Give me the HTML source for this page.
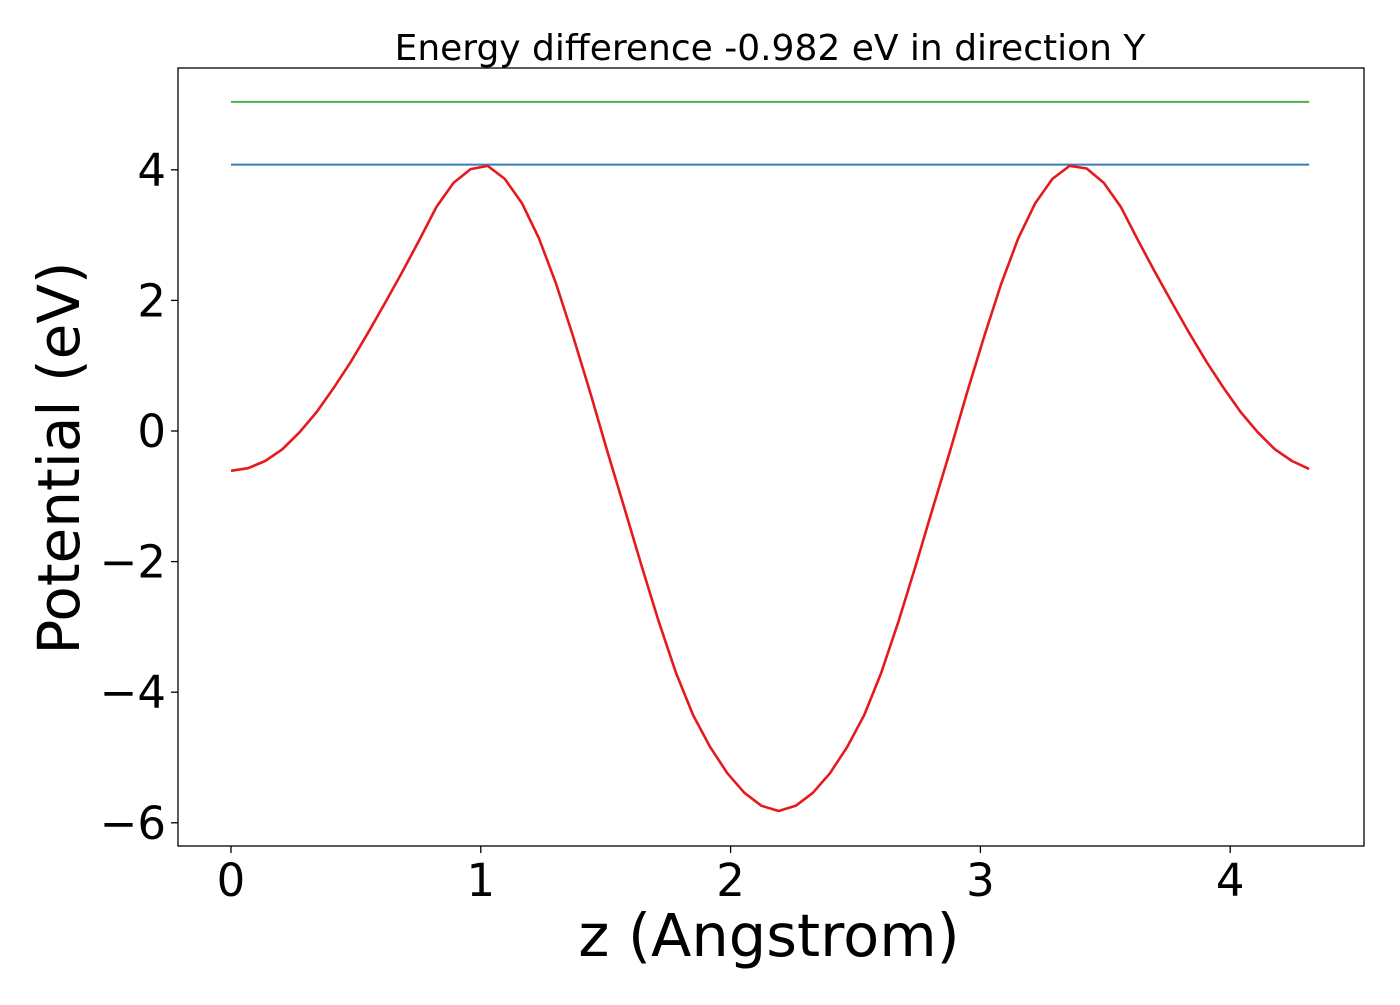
<!DOCTYPE html>
<html><head><meta charset="utf-8"><style>
html,body{margin:0;padding:0;background:#fff;}
svg text{font-family:"DejaVu Sans","Liberation Sans",sans-serif;fill:#000;}
</style></head><body>
<svg width="1400" height="1000" viewBox="0 0 1400 1000">
<g id="plot"></g>
</svg>
<script>
const potential = [-0.61,-0.57,-0.46,-0.28,-0.02,0.29,0.66,1.06,1.50,1.96,2.43,2.92,3.43,3.80,4.01,4.06,3.86,3.49,2.95,2.25,1.44,0.58,-0.32,-1.19,-2.07,-2.92,-3.70,-4.35,-4.84,-5.24,-5.54,-5.74,-5.82,-5.74,-5.54,-5.24,-4.84,-4.35,-3.70,-2.92,-2.07,-1.19,-0.32,0.58,1.44,2.25,2.95,3.49,3.86,4.06,4.02,3.80,3.43,2.92,2.43,1.96,1.50,1.06,0.66,0.29,-0.02,-0.28,-0.46,-0.58];
const zMax = 4.316;
const blueLevel = 4.08;
const greenLevel = 5.04;
const xTicks = [0,1,2,3,4];
const yTicks = [-6,-4,-2,0,2,4];
const yTickLabels = ["\u22126","\u22124","\u22122","0","2","4"];

const L=178,R=1364,T=68,B=846;
const xs = v => 231 + v*249.8;
const ys = v => 431 - v*65.3;
const NS="http://www.w3.org/2000/svg";
const g=document.getElementById('plot');
function mk(tag,attrs){const e=document.createElementNS(NS,tag);for(const k in attrs)e.setAttribute(k,attrs[k]);g.appendChild(e);return e;}

let e;
e=mk('line',{x1:xs(0),x2:xs(zMax),y1:ys(greenLevel),y2:ys(greenLevel),stroke:'#4daf4a','stroke-width':2});


e=mk('line',{x1:xs(0),x2:xs(zMax),y1:ys(blueLevel),y2:ys(blueLevel),stroke:'#377eb8','stroke-width':2});


const n=potential.length;
const pts=potential.map((v,i)=>xs(i*zMax/(n-1)).toFixed(1)+','+ys(v).toFixed(1)).join(' ');
e=mk('polyline',{points:pts,fill:'none',stroke:'#e41a1c','stroke-width':2.6,'stroke-linejoin':'round'});



e=mk('rect',{x:L,y:T,width:R-L,height:B-T,fill:'none',stroke:'#000','stroke-width':1.3});



xTicks.forEach(v=>{
  e=mk('line',{x1:xs(v),x2:xs(v),y1:B,y2:B+7,stroke:'#000','stroke-width':1.3});
  
  
  e=mk('text',{x:xs(v),y:B+50,'font-size':45,'text-anchor':'middle'});
  e.textContent=String(v);
  
  
});
yTicks.forEach((v,i)=>{
  e=mk('line',{x1:L-7,x2:L,y1:ys(v),y2:ys(v),stroke:'#000','stroke-width':1.3});
  
  
  e=mk('text',{x:L-12,y:ys(v)+16,'font-size':45,'text-anchor':'end'});
  e.textContent=yTickLabels[i];
  
  
});
e=mk('text',{x:769,y:956,'font-size':59,'text-anchor':'middle'});
e.textContent='z (Angstrom)';


e=mk('text',{x:0,y:0,'font-size':58,'text-anchor':'middle',transform:'translate(79,458) rotate(-90)'});
e.textContent='Potential (eV)';


e=mk('text',{x:770,y:60,'font-size':36,'text-anchor':'middle'});
e.textContent='Energy difference -0.982 eV in direction Y';


</script>
</body></html>
